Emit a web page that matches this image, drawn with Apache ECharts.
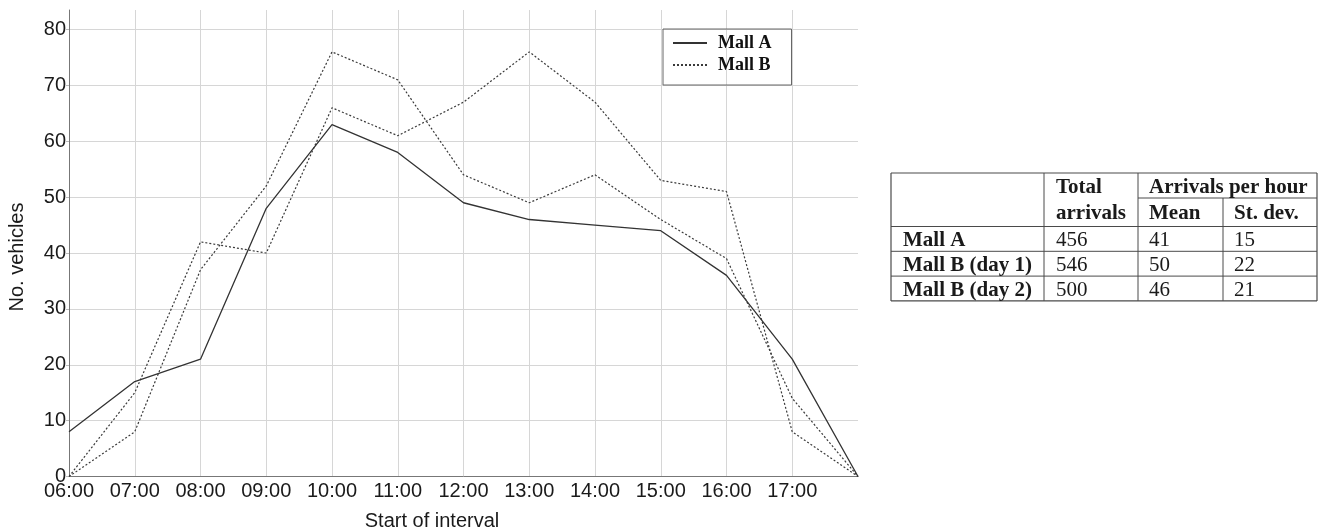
<!DOCTYPE html>
<html>
<head>
<meta charset="utf-8">
<script src="https://cdn.jsdelivr.net/npm/echarts@6/dist/echarts.min.js"></script>
<style>
  html, body { margin: 0; padding: 0; background: #fff; }
  #chart { width: 1323px; height: 532px; }
</style>
</head>
<body>
<div id="chart"></div>
<script>
// ---- data ----
const categories = ['06:00','07:00','08:00','09:00','10:00','11:00','12:00','13:00','14:00','15:00','16:00','17:00','18:00'];
const mallA      = [8, 17, 21, 48, 63, 58, 49, 46, 45, 44, 36, 21, 0];
const mallBDay1  = [0, 15, 42, 40, 66, 61, 67, 76, 67, 53, 51, 8, 0];
const mallBDay2  = [0, 8, 37, 52, 76, 71, 54, 49, 54, 46, 39, 14, 0];
const yTicks     = [0, 10, 20, 30, 40, 50, 60, 70, 80];
const legendNames = ['Mall A', 'Mall B'];
const yTitle = 'No. vehicles';
const xTitle = 'Start of interval';

const tableGroupHeader = 'Arrivals per hour';
const tableColHeaders = [['Total', 'arrivals'], ['Mean'], ['St. dev.']];
const tableRowLabels = ['Mall A', 'Mall B (day 1)', 'Mall B (day 2)'];
const tableTotals = [456, 546, 500];
const tableMeans  = [41, 50, 46];
const tableStdDev = [15, 22, 21];

// ---- table drawing (graphic elements) ----
const T = {
  xs: [891, 1044, 1138, 1223, 1317],
  yTop: 173, ySub: 198, yHead: 226.5, rowH: 24.8,
  pad: 12, font: 'Liberation Serif', size: 21
};
const lineColor = '#4a4a4a';
function hline(x1, x2, y, w) {
  return { type: 'line', shape: { x1: x1, y1: y, x2: x2, y2: y }, style: { stroke: lineColor, lineWidth: w || 1 }, silent: true };
}
function vline(x, y1, y2, w) {
  return { type: 'line', shape: { x1: x, y1: y1, x2: x, y2: y2 }, style: { stroke: lineColor, lineWidth: w || 1 }, silent: true };
}
function txt(s, x, baseline, bold) {
  return { type: 'text', x: x, y: baseline - 5, silent: true,
    style: { text: String(s), fill: '#1a1a1a', font: (bold ? 'bold ' : '') + T.size + 'px "' + T.font + '"',
             textAlign: 'left', textVerticalAlign: 'middle' } };
}
const nRows = tableRowLabels.length;
const yBottom = T.yHead + nRows * T.rowH;
const tableEls = [];
tableEls.push(hline(T.xs[0], T.xs[4], T.yTop, 1.2));
tableEls.push(hline(T.xs[2], T.xs[4], T.ySub));
tableEls.push(hline(T.xs[0], T.xs[4], T.yHead));
for (let i = 1; i <= nRows; i++) tableEls.push(hline(T.xs[0], T.xs[4], T.yHead + i * T.rowH, i === nRows ? 1.2 : 1));
tableEls.push(vline(T.xs[0], T.yTop, yBottom, 1.2));
tableEls.push(vline(T.xs[1], T.yTop, yBottom));
tableEls.push(vline(T.xs[2], T.yTop, yBottom));
tableEls.push(vline(T.xs[3], T.ySub, yBottom));
tableEls.push(vline(T.xs[4], T.yTop, yBottom, 1.2));
// headers
tableEls.push(txt(tableColHeaders[0][0], T.xs[1] + T.pad, 193, true));
tableEls.push(txt(tableColHeaders[0][1], T.xs[1] + T.pad, 219, true));
tableEls.push(txt(tableGroupHeader, T.xs[2] + 11, 193, true));
tableEls.push(txt(tableColHeaders[1][0], T.xs[2] + 11, 219, true));
tableEls.push(txt(tableColHeaders[2][0], T.xs[3] + 11, 219, true));
// body
for (let i = 0; i < nRows; i++) {
  const base = T.yHead + (i + 1) * T.rowH - 5.5;
  tableEls.push(txt(tableRowLabels[i], T.xs[0] + T.pad, base, true));
  tableEls.push(txt(tableTotals[i], T.xs[1] + T.pad, base, false));
  tableEls.push(txt(tableMeans[i], T.xs[2] + 11, base, false));
  tableEls.push(txt(tableStdDev[i], T.xs[3] + 11, base, false));
}

// ---- chart ----
const chart = echarts.init(document.getElementById('chart'), null, { renderer: 'canvas' });
const axisFont = { fontFamily: 'Liberation Sans', fontSize: 20, color: '#1a1a1a' };
const lineCol = '#333';

const option = {
  animation: false,
  backgroundColor: '#fff',
  grid: { left: 69, right: 465, top: 10, bottom: 55.5, containLabel: false },
  legend: {
    data: legendNames,
    orient: 'vertical',
    left: 663, top: 29,
    padding: [5, 20, 11, 9],
    itemWidth: 34, itemHeight: 18, itemGap: 4,
    borderColor: '#666', borderWidth: 1,
    itemStyle: { opacity: 0 },
    textStyle: { fontFamily: 'Liberation Serif', fontWeight: 'bold', fontSize: 18, color: '#111', padding: [0, 0, 0, 6] },
    selectedMode: false
  },
  xAxis: {
    type: 'category',
    data: categories,
    boundaryGap: false,
    axisLine: { show: true, lineStyle: { color: '#777', width: 1 } },
    axisTick: { show: false },
    axisLabel: Object.assign({ margin: 5, interval: 0,
      formatter: function (v, i) { return i === categories.length - 1 ? '' : v; } }, axisFont),
    splitLine: { show: true, interval: function (i) { return i > 0 && i < categories.length - 1; },
      lineStyle: { color: '#d6d6d6', width: 1 } }
  },
  yAxis: {
    type: 'value',
    min: yTicks[0], max: 83.5, interval: 10,
    axisLine: { show: true, lineStyle: { color: '#777', width: 1 } },
    axisTick: { show: true, length: 3, lineStyle: { color: '#bbb' } },
    axisLabel: Object.assign({ margin: 3, showMaxLabel: false,
      formatter: function (v) { return yTicks.indexOf(v) >= 0 ? String(v) : ''; } }, axisFont),
    splitLine: { show: true, showMinLine: false, showMaxLine: false, lineStyle: { color: '#d6d6d6', width: 1 } }
  },
  series: [
    { name: 'Mall A', type: 'line', data: mallA, symbol: 'none', z: 3,
      lineStyle: { color: lineCol, width: 1.3, type: 'solid' }, itemStyle: { color: lineCol } },
    { name: 'Mall B', type: 'line', data: mallBDay1, symbol: 'none', z: 2,
      lineStyle: { color: '#3a3a3a', width: 1.2, type: [2, 2] }, itemStyle: { color: '#3a3a3a' } },
    { name: 'Mall B', type: 'line', data: mallBDay2, symbol: 'none', z: 2,
      lineStyle: { color: '#3a3a3a', width: 1.2, type: [2, 2] }, itemStyle: { color: '#3a3a3a' } }
  ],
  graphic: [
    { type: 'text', x: 17, y: 257, rotation: Math.PI / 2, silent: true,
      style: { text: yTitle, fill: '#1a1a1a', font: '20px "Liberation Sans"', textAlign: 'center', textVerticalAlign: 'middle' } },
    { type: 'text', x: 432, y: 521.5, silent: true,
      style: { text: xTitle, fill: '#1a1a1a', font: '20px "Liberation Sans"', textAlign: 'center', textVerticalAlign: 'middle' } }
  ].concat(tableEls)
};
chart.setOption(option);
</script>
</body>
</html>
